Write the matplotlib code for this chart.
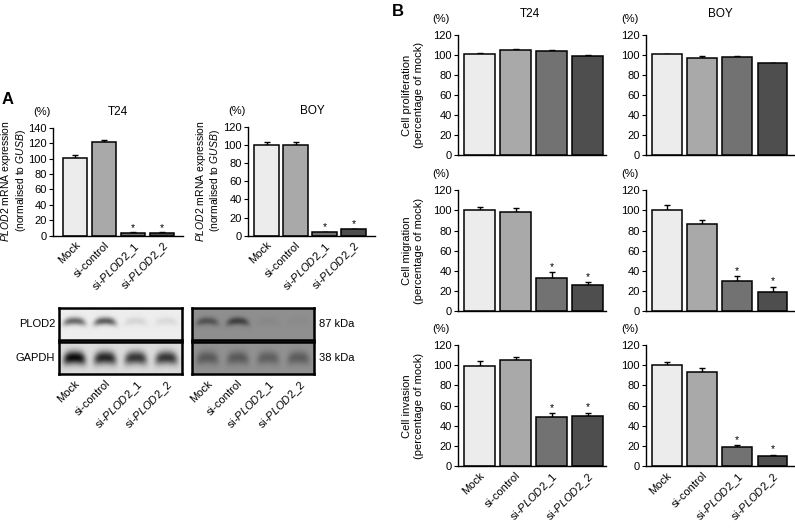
import numpy as np
import matplotlib
matplotlib.use("Agg")
import matplotlib.pyplot as plt

plt.rcParams['font.family'] = ['Liberation Sans', 'DejaVu Sans']
plt.rcParams['mathtext.fontset'] = 'custom'
plt.rcParams['mathtext.rm'] = 'Liberation Sans'
plt.rcParams['mathtext.it'] = 'Liberation Sans:italic'
plt.rcParams['font.size'] = 8

groups = ['Mock', 'si-control', r'si-$\mathit{PLOD2}$_1', r'si-$\mathit{PLOD2}$_2']
bar_colors = ['#ececec', '#a9a9a9', '#727272', '#4e4e4e']
starred = [False, False, True, True]
no_stars = [False, False, False, False]

# panel A: qPCR
a_t24 = [101, 121, 4, 4]
a_t24_err = [3.5, 3, 0.5, 0.5]
a_boy = [100, 100, 4, 7]
a_boy_err = [3.5, 3.5, 0.5, 0.8]

# panel A: western blot band intensities (0 = no band)
t24_plod2 = [0.55, 0.6, 0.1, 0.08]
t24_gapdh = [0.95, 0.82, 0.75, 0.75]
boy_plod2 = [0.42, 0.55, 0.05, 0.03]
boy_gapdh = [0.38, 0.38, 0.34, 0.36]

# panel B
prolif_t24 = [101, 105, 104, 98.5]
prolif_t24_err = [0.3, 0.8, 0.6, 1.5]
prolif_boy = [100.5, 97, 97.8, 91.5]
prolif_boy_err = [0.3, 1.5, 1.0, 0.3]
migr_t24 = [100.5, 98, 33, 26]
migr_t24_err = [3, 4.5, 5.5, 2.5]
migr_boy = [100.5, 86.5, 30, 19.5]
migr_boy_err = [5, 4.5, 4.5, 5]
inv_t24 = [99.5, 105, 49, 50]
inv_t24_err = [4.5, 3, 3.5, 3]
inv_boy = [100, 93.5, 19, 10]
inv_boy_err = [3.5, 3.5, 2, 1.3]

W, H = 795, 529
fig = plt.figure(figsize=(W / 100, H / 100), dpi=100)


def add_ax(left, right, bottom, top):
    return fig.add_axes([left / W, (H - bottom) / H, (right - left) / W, (bottom - top) / H])


def ftext(x, y, s, **kw):
    fig.text(x / W, (H - y) / H, s, **kw)


def bar_panel(ax, vals, errs, ymax, step, xlim, width, star_off, stars, labels=False):
    x = np.arange(len(vals))
    ax.bar(x, vals, width=width, color=bar_colors, edgecolor='black', linewidth=1.1, zorder=2)
    ax.errorbar(x, vals, yerr=[np.zeros(len(vals)), errs], fmt='none', ecolor='black',
                elinewidth=1, capsize=2.5, capthick=1, zorder=1)
    for xi, v, e, s in zip(x, vals, errs, stars):
        if s:
            ax.text(xi, v + e + star_off, '*', ha='center', va='center', fontsize=7.5)
    ax.set_ylim(0, ymax)
    ax.set_xlim(*xlim)
    ax.set_yticks(np.arange(0, ymax + 1, step))
    for sp in ['top', 'right']:
        ax.spines[sp].set_visible(False)
    ax.spines['left'].set_linewidth(1)
    ax.spines['bottom'].set_linewidth(1)
    ax.tick_params(axis='y', length=3, width=0.8, pad=1.5, labelsize=8)
    ax.tick_params(axis='x', length=0, pad=3)
    ax.set_xticks(x)
    if labels:
        ax.set_xticklabels(groups, rotation=45, ha='right', rotation_mode='anchor', fontsize=8)
    else:
        ax.set_xticklabels([])


# ---- panel A bars
ax = add_ax(53, 182.7, 235.7, 127.7)
bar_panel(ax, a_t24, a_t24_err, 140, 20, (-0.76, 3.71), 0.84, 5.5, starred, labels=True)
ax = add_ax(248, 375, 235.7, 126.7)
bar_panel(ax, a_boy, a_boy_err, 120, 20, (-0.64, 3.74), 0.84, 5, starred, labels=True)

ylab_a = '$\\mathit{PLOD2}$ mRNA expression\n(normalised to $\\mathit{GUSB}$)'
ftext(14, 181, ylab_a, rotation=90, ha='center', va='center', fontsize=7.5, linespacing=1.1)
ftext(208, 181, ylab_a, rotation=90, ha='center', va='center', fontsize=7.5, linespacing=1.1)
ftext(42, 112, '(%)', ha='center', va='center', fontsize=8)
ftext(118, 112, 'T24', ha='center', va='center', fontsize=8.5)
ftext(237, 111, '(%)', ha='center', va='center', fontsize=8)
ftext(312, 111, 'BOY', ha='center', va='center', fontsize=8.5)
ftext(2, 99, 'A', ha='left', va='center', fontsize=12, fontweight='bold')


# ---- panel A western blot
def blot(ax, bands, bg, ysig, ycen, labels=False):
    xs = np.linspace(-0.5, 3.5, 246)
    ys = np.linspace(0, 1, 64)
    X, Y = np.meshgrid(xs, ys)
    img = np.ones_like(X)
    for i, b in enumerate(bands):
        px = np.exp(-((X - i) / 0.36) ** 4)
        yc = ycen + 0.08 * ((X - i) / 0.4) ** 2
        py = np.exp(-((Y - yc) / ysig) ** 2)
        img -= b * px * py
    img = np.clip(img, 0, 1) * bg
    ax.imshow(img, cmap='gray', vmin=0, vmax=1, extent=[-0.5, 3.5, 1, 0],
              aspect='auto', interpolation='bilinear')
    for sp in ax.spines.values():
        sp.set_linewidth(1.8)
    ax.set_yticks([])
    ax.set_xticks(range(4))
    ax.tick_params(axis='x', length=0, pad=3)
    if labels:
        ax.set_xticklabels(groups, rotation=45, ha='right', rotation_mode='anchor', fontsize=8)
    else:
        ax.set_xticklabels([])


blot(add_ax(59, 182, 340, 307.7), t24_plod2, 0.93, 0.12, 0.42)
blot(add_ax(59, 182, 374, 341.7), t24_gapdh, 0.86, 0.2, 0.5, labels=True)
blot(add_ax(192, 314, 340, 307.7), boy_plod2, 0.56, 0.12, 0.42)
blot(add_ax(192, 314, 374, 341.7), boy_gapdh, 0.57, 0.2, 0.5, labels=True)
ftext(55, 324, 'PLOD2', ha='right', va='center', fontsize=8)
ftext(55, 358, 'GAPDH', ha='right', va='center', fontsize=8)
ftext(319, 324, '87 kDa', ha='left', va='center', fontsize=8)
ftext(319, 358, '38 kDa', ha='left', va='center', fontsize=8)

# ---- panel B
rows = [
    (prolif_t24, prolif_t24_err, prolif_boy, prolif_boy_err, 155.3, 34.6,
     'Cell proliferation\n(percentage of mock)', no_stars, False),
    (migr_t24, migr_t24_err, migr_boy, migr_boy_err, 311.2, 190.3,
     'Cell migration\n(percentage of mock)', starred, False),
    (inv_t24, inv_t24_err, inv_boy, inv_boy_err, 466.4, 345,
     'Cell invasion\n(percentage of mock)', starred, True),
]
for t24, t24e, boy, boye, bot, top, ylab, stars, lab in rows:
    ax = add_ax(458, 606, bot, top)
    bar_panel(ax, t24, t24e, 120, 20, (-0.6, 3.51), 0.86, 5.5, stars, labels=lab)
    ax = add_ax(646, 794, bot, top)
    bar_panel(ax, boy, boye, 120, 20, (-0.59, 3.61), 0.85, 5.5, stars, labels=lab)
    ftext(413, (bot + top) / 2, ylab, rotation=90, ha='center', va='center',
          fontsize=8, linespacing=1.15)
    ftext(441, top - 16, '(%)', ha='center', va='center', fontsize=8)
    ftext(630, top - 16, '(%)', ha='center', va='center', fontsize=8)

ftext(530, 14, 'T24', ha='center', va='center', fontsize=8.5)
ftext(720, 14, 'BOY', ha='center', va='center', fontsize=8.5)
ftext(392, 12, 'B', ha='left', va='center', fontsize=12, fontweight='bold')

fig.savefig('out.png', dpi=100)
